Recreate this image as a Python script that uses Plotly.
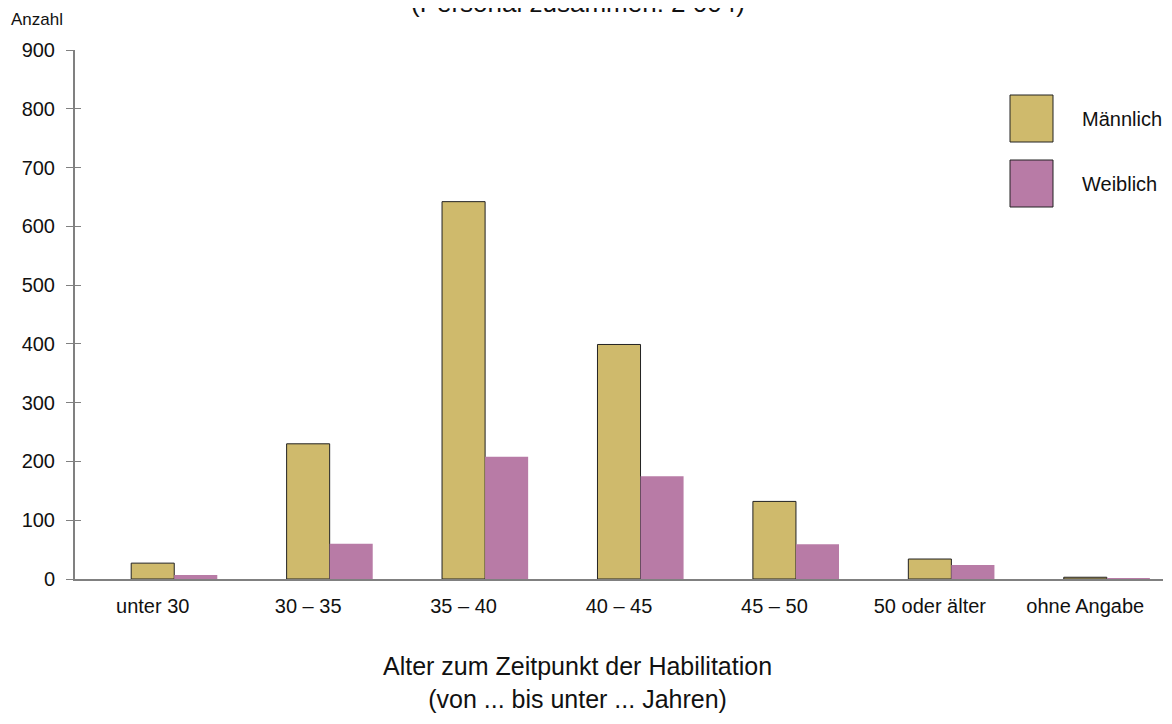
import plotly.graph_objects as go

categories = ["unter 30", "30 – 35", "35 – 40", "40 – 45", "45 – 50", "50 oder älter", "ohne Angabe"]
maennlich = [27, 230, 642, 399, 132, 34, 3]
weiblich = [7, 60, 208, 175, 59, 24, 1]
y_ticks = [0, 100, 200, 300, 400, 500, 600, 700, 800, 900]

GOLD = "#CFBA6C"
PINK = "#B87BA6"
AXIS = "#808080"
FONT = "Liberation Sans, Arial, sans-serif"
BW = 0.277  # bar width in category units

# the page has an 8px body margin, so the figure is 16px smaller than the window
W, H = 1156, 708
PX0, PY0, PW, PH = 75, 50, 1088, 529  # plot area in window pixels


def px(x):
    return (x - PX0) / PW


def py(y):
    return 1 - (y - PY0) / PH


fig = go.Figure()
fig.add_trace(go.Bar(x=categories, y=maennlich, name="Männlich", width=BW, offset=-BW / 2,
                     marker=dict(color=GOLD, line=dict(color="#222", width=1)), showlegend=False))
fig.add_trace(go.Bar(x=categories, y=weiblich, name="Weiblich", width=BW, offset=BW / 2,
                     marker=dict(color=PINK, line=dict(width=0)), showlegend=False))
# invisible trace on a twin axis so the y ticks cross the axis line
fig.add_trace(go.Scatter(x=[categories[0]], y=[0], yaxis="y2", mode="markers",
                         marker=dict(opacity=0), showlegend=False, hoverinfo="skip"))

fig.update_layout(
    width=W, height=H,
    margin=dict(l=PX0 - 8, r=W - (PX0 + PW - 8), t=PY0 - 8, b=H - (PY0 + PH - 8)),
    plot_bgcolor="white", paper_bgcolor="white",
    barmode="overlay",
    font=dict(family=FONT, size=20, color="#111"),
    xaxis=dict(type="category", range=[-0.5, 6.5], showline=True, linecolor=AXIS, linewidth=2,
               ticks="", showgrid=False, zeroline=False, tickfont=dict(size=20), ticklabelstandoff=8),
    yaxis=dict(range=[0, 900], tickvals=y_ticks, showline=True, linecolor=AXIS, linewidth=2,
               ticks="outside", ticklen=7, tickcolor=AXIS, tickwidth=1, showgrid=False, zeroline=False,
               tickfont=dict(size=20), ticklabelstandoff=7),
    yaxis2=dict(range=[0, 900], tickvals=y_ticks, overlaying="y", side="left", showline=False,
                ticks="inside", ticklen=6, tickcolor=AXIS, tickwidth=1, showticklabels=False,
                showgrid=False, zeroline=False),
)

# axis titles and the title line that is cut off at the top
fig.add_annotation(text="Anzahl", xref="paper", yref="paper", x=px(9), y=py(20),
                   xanchor="left", yanchor="middle", showarrow=False, font=dict(size=17))
fig.add_annotation(text="(Personal zusammen: 2 004)", xref="paper", yref="paper",
                   x=px(578), y=py(20), xanchor="center", yanchor="bottom",
                   showarrow=False, font=dict(size=26))
fig.add_annotation(text="Alter zum Zeitpunkt der Habilitation<br>(von ... bis unter ... Jahren)",
                   xref="paper", yref="paper", x=px(577), y=py(682), xanchor="center",
                   yanchor="middle", showarrow=False, font=dict(size=25))

# legend drawn as swatches + labels
legend_items = [("Männlich", GOLD, 95), ("Weiblich", PINK, 160)]
for label, color, top in legend_items:
    fig.add_shape(type="rect", xref="paper", yref="paper",
                  x0=px(1010), x1=px(1053), y0=py(top + 47), y1=py(top),
                  fillcolor=color, line=dict(color="#222", width=1))
    fig.add_annotation(text=label, xref="paper", yref="paper", x=px(1080),
                       y=py(top + 24), xanchor="left", yanchor="middle", showarrow=False,
                       font=dict(size=20))

fig.write_html("out.html")
